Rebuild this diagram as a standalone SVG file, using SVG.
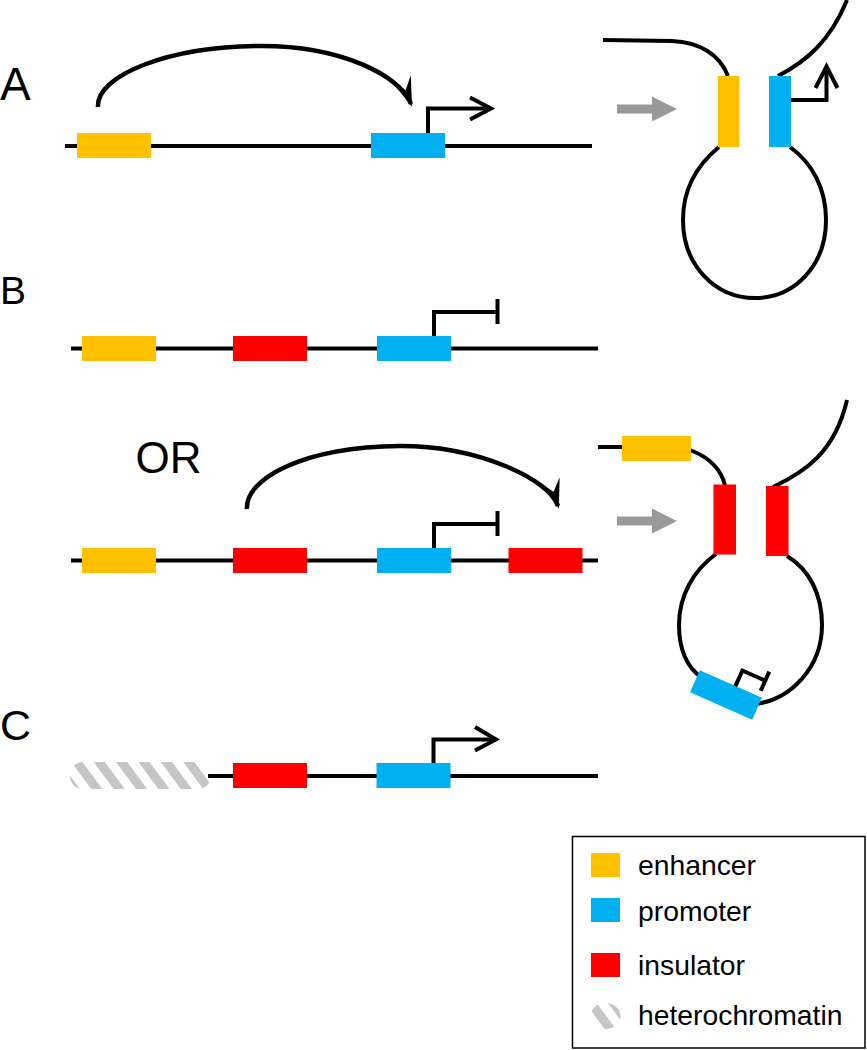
<svg xmlns="http://www.w3.org/2000/svg" width="867" height="1050" viewBox="0 0 867 1050">
<style>
.dna{fill:none;stroke:#000;stroke-width:4}
.crv{fill:none;stroke:#000;stroke-width:4.5}
.arr{fill:none;stroke:#000;stroke-width:4;stroke-linejoin:miter}
.enh{fill:#FFC000}
.pro{fill:#00B0F0}
.ins{fill:#FF0000}
.het{fill:url(#hetero)}
.gray{fill:#999999}
.lbl{font-family:"Liberation Sans",Arial,sans-serif;fill:#000}
.leg{font-family:"Liberation Sans",Arial,sans-serif;fill:#000;font-size:28.3px}
</style>
<defs>
<marker id="curveHead" viewBox="-30 -11 34 22" refX="0" refY="0" markerWidth="34" markerHeight="22" markerUnits="userSpaceOnUse" orient="auto">
<path d="M3,0 L-27,-10 L-15,0 L-27,10 Z" fill="#000"/>
</marker>
<pattern id="hetero" patternUnits="userSpaceOnUse" width="18" height="18" patternTransform="rotate(-36.5)">
<rect x="0" y="0" width="9" height="18" fill="#c6c6c6"/>
</pattern>
<path id="grayArrow" d="M0,-4.5 H35 V-12.5 L60,0 L35,12.5 V4.5 H0 Z"/>
</defs>

<!-- labels -->
<g id="labels">
<text class="lbl" x="0" y="100" font-size="46">A</text>
<text class="lbl" x="0" y="304" font-size="39">B</text>
<text class="lbl" x="135.5" y="472.5" font-size="44">OR</text>
<text class="lbl" x="0" y="739.5" font-size="43">C</text>
</g>

<!-- connectors / DNA strands -->
<g id="connectors">
<!-- A -->
<path class="dna" d="M65,146 H592"/>
<path class="crv" d="M98,107 C96,75 170,46 262,46 C340,46 400,75 411,104" marker-end="url(#curveHead)"/>
<path class="arr" d="M428,133 V108.5 H490"/>
<path class="arr" d="M470,97.5 L491,108.5 L470,119.5"/>
<use href="#grayArrow" class="gray" x="617" y="109"/>
<path class="dna" d="M603,40 L672,41 C700,42 720,55 728,76"/>
<path class="dna" d="M778,76 C805,62 830,42 847,0"/>
<path class="dna" d="M719,147 C697,165 683,190 683,220 C683,265 715,298 755,298 C795,298 826,265 826,220 C826,188 812,163 790,147"/>
<path class="arr" d="M791,100 H826.5 V67"/>
<path class="arr" d="M815.5,88 L826.5,66.5 L837.5,88"/>
<!-- B -->
<path class="dna" d="M71,348.5 H598"/>
<path class="arr" d="M434,336 V312 H497.5"/>
<path class="arr" d="M497.5,299 V324"/>
<!-- OR -->
<path class="dna" d="M71,560.5 H598"/>
<path class="crv" d="M247,509 C245,480 300,447 400,446 C480,446 550,480 558,506" marker-end="url(#curveHead)"/>
<path class="arr" d="M434,548 V524 H497.5"/>
<path class="arr" d="M497.5,511 V536"/>
<use href="#grayArrow" class="gray" x="617" y="521"/>
<path class="dna" d="M598,447 H624"/>
<path class="dna" d="M690,450 C706,456 720,466 725,485"/>
<path class="dna" d="M773,487 C805,472 835,452 847,400"/>
<path class="dna" d="M716,554 C694,570 679,595 679,625 C679,650 688,668 702,678 L755,704 C790,700 822,668 822,625 C822,595 810,570 787,556"/>
<!-- C -->
<path class="dna" d="M208,776 H598"/>
<path class="arr" d="M433.5,763 V739.5 H495"/>
<path class="arr" d="M475,727 L496,739.5 L475,750.5"/>
</g>

<!-- row A nodes -->
<g id="A-enhancer"><rect class="enh" x="77" y="133" width="74" height="25"/></g>
<g id="A-promoter"><rect class="pro" x="371" y="133" width="74" height="25"/></g>
<g id="A-loop-enhancer"><rect class="enh" x="718" y="76" width="21.5" height="71"/></g>
<g id="A-loop-promoter"><rect class="pro" x="769" y="76" width="22" height="71"/></g>

<!-- row B nodes -->
<g id="B-enhancer"><rect class="enh" x="82" y="336" width="74" height="25"/></g>
<g id="B-insulator"><rect class="ins" x="233" y="336" width="74" height="25"/></g>
<g id="B-promoter"><rect class="pro" x="377" y="336" width="74" height="25"/></g>

<!-- OR row nodes -->
<g id="OR-enhancer"><rect class="enh" x="82" y="548" width="74" height="25"/></g>
<g id="OR-insulator1"><rect class="ins" x="233" y="548" width="74" height="25"/></g>
<g id="OR-promoter"><rect class="pro" x="377" y="548" width="74" height="25"/></g>
<g id="OR-insulator2"><rect class="ins" x="508.5" y="548" width="74" height="25"/></g>
<g id="OR-loop-enhancer"><rect class="enh" x="622" y="436" width="69" height="25"/></g>
<g id="OR-loop-insulator1"><rect class="ins" x="713.5" y="484.5" width="22.5" height="70"/></g>
<g id="OR-loop-insulator2"><rect class="ins" x="766" y="486" width="22.5" height="70"/></g>
<g id="OR-loop-promoter" transform="translate(726,695) rotate(24)">
<rect class="pro" x="-34" y="-12" width="68" height="24"/>
<path class="arr" d="M5,-12 V-29 H30"/>
<path class="arr" d="M30,-39 V-18"/>
</g>

<!-- row C nodes -->
<g id="C-heterochromatin"><rect class="het" x="70" y="762" width="141" height="27" rx="13" ry="13"/></g>
<g id="C-insulator"><rect class="ins" x="233" y="763" width="74" height="25"/></g>
<g id="C-promoter"><rect class="pro" x="376.5" y="763" width="74" height="25"/></g>

<!-- legend -->
<g id="legend">
<rect x="572.5" y="836.5" width="292.5" height="211.5" fill="none" stroke="#000" stroke-width="1.5"/>
<rect class="enh" x="591" y="853" width="29" height="24"/>
<rect class="pro" x="591" y="898" width="29" height="24"/>
<rect class="ins" x="591" y="953" width="29" height="24"/>
<ellipse class="het" cx="605.5" cy="1016" rx="15" ry="13"/>
<text class="leg" x="638" y="875">enhancer</text>
<text class="leg" x="638" y="920.5">promoter</text>
<text class="leg" x="638" y="975">insulator</text>
<text class="leg" x="638" y="1025">heterochromatin</text>
</g>
</svg>
